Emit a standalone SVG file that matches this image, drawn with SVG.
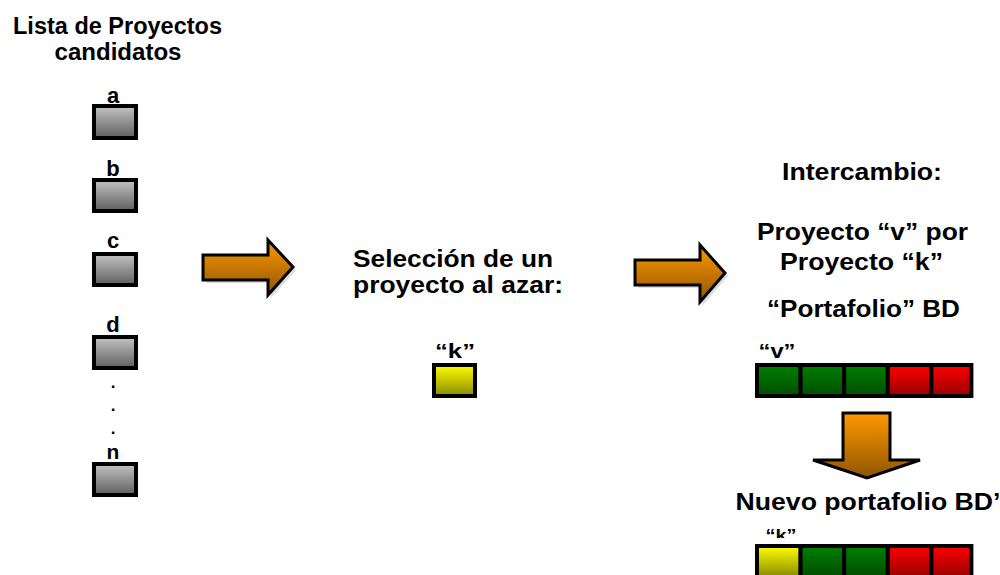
<svg xmlns="http://www.w3.org/2000/svg" width="1000" height="575" viewBox="0 0 1000 575">
<defs>
<linearGradient id="gGray" x1="0" y1="0" x2="0" y2="1"><stop offset="0" stop-color="#c4c4c4"/><stop offset="1" stop-color="#5e5e5e"/></linearGradient>
<linearGradient id="gYel" x1="0" y1="0" x2="0" y2="1"><stop offset="0" stop-color="#ffff00"/><stop offset="1" stop-color="#8a8a00"/></linearGradient>
<linearGradient id="gGrn" x1="0" y1="0" x2="0" y2="1"><stop offset="0" stop-color="#008000"/><stop offset="1" stop-color="#004d00"/></linearGradient>
<linearGradient id="gRed" x1="0" y1="0" x2="0" y2="1"><stop offset="0" stop-color="#ff0000"/><stop offset="1" stop-color="#990000"/></linearGradient>
<linearGradient id="gOr" x1="0" y1="0" x2="0" y2="1"><stop offset="0" stop-color="#ff9900"/><stop offset="1" stop-color="#8f5500"/></linearGradient>
<clipPath id="clipK"><rect x="740" y="515" width="100" height="23"/></clipPath>
</defs>
<style>
text{font-family:"Liberation Sans",Arial,sans-serif;font-weight:bold;fill:#000;text-anchor:middle}
.t{font-size:23px}
.l{font-size:22px}
.q{font-size:21px}
.dot{font-size:17px}
.box{stroke:#000;stroke-width:4}
.arr{fill:url(#gOr);stroke:#000;stroke-width:3;stroke-linejoin:miter}
.sh{fill:#bbb;opacity:0.5}
</style>
<rect width="1000" height="575" fill="#fff"/>
<g id="title">
<text class="t" x="117.5" y="34" textLength="209" lengthAdjust="spacingAndGlyphs">Lista de Proyectos</text>
<text class="t" x="118" y="60" textLength="127" lengthAdjust="spacingAndGlyphs">candidatos</text>
</g>
<g id="node-a"><text class="l" x="113" y="103">a</text><rect class="box" x="94" y="106" width="42" height="32" fill="url(#gGray)"/></g>
<g id="node-b"><text class="l" x="113" y="176">b</text><rect class="box" x="94" y="180" width="42" height="31" fill="url(#gGray)"/></g>
<g id="node-c"><text class="l" x="113" y="248">c</text><rect class="box" x="94" y="254" width="42" height="31" fill="url(#gGray)"/></g>
<g id="node-d"><text class="l" x="113" y="332">d</text><rect class="box" x="94" y="337" width="42" height="31" fill="url(#gGray)"/></g>
<g id="dots"><text class="dot" x="113" y="388">.</text><text class="dot" x="113" y="411">.</text><text class="dot" x="113" y="434">.</text></g>
<g id="node-n"><text class="q" x="113" y="459">n</text><rect class="box" x="94" y="464" width="42" height="31" fill="url(#gGray)"/></g>
<g id="connectors">
<path class="sh" d="M206 258 H271 V243 L296 270 L271 298 V283 H206 Z"/>
<path class="arr" d="M203 255 H268 V240 L293 267 L268 295 V280 H203 Z"/>
<path class="sh" d="M638 263 H703 V248 L728 276 L703 305 V288 H638 Z"/>
<path class="arr" d="M635 260 H700 V245 L725 273 L700 302 V285 H635 Z"/>
<path class="arr" d="M843 413 H890 V460 H920 L867 478 L813 460 H843 Z"/>
</g>
<g id="seleccion">
<text class="t" x="453" y="267" textLength="200" lengthAdjust="spacingAndGlyphs">Selección de un</text>
<text class="t" x="458" y="293" textLength="210" lengthAdjust="spacingAndGlyphs">proyecto al azar:</text>
</g>
<g id="node-k"><text class="q" x="455" y="358" textLength="40" lengthAdjust="spacingAndGlyphs">“k”</text><rect class="box" x="434" y="365" width="41" height="31" fill="url(#gYel)"/></g>
<g id="intercambio">
<text class="t" x="862" y="180" textLength="160" lengthAdjust="spacingAndGlyphs">Intercambio:</text>
<text class="t" x="862.5" y="240" textLength="211" lengthAdjust="spacingAndGlyphs">Proyecto “v” por</text>
<text class="t" x="861.5" y="270" textLength="163" lengthAdjust="spacingAndGlyphs">Proyecto “k”</text>
<text class="t" x="863.5" y="317" textLength="193" lengthAdjust="spacingAndGlyphs">“Portafolio” BD</text>
</g>
<g id="portafolio">
<text class="q" x="777" y="358" textLength="37" lengthAdjust="spacingAndGlyphs">“v”</text>
<rect class="box" x="757" y="365" width="43.6" height="31" fill="url(#gGrn)"/>
<rect class="box" x="800.6" y="365" width="43.6" height="31" fill="url(#gGrn)"/>
<rect class="box" x="844.2" y="365" width="43.6" height="31" fill="url(#gGrn)"/>
<rect class="box" x="887.8" y="365" width="43.6" height="31" fill="url(#gRed)"/>
<rect class="box" x="931.4" y="365" width="40" height="31" fill="url(#gRed)"/>
</g>
<g id="nuevo">
<text class="t" x="868" y="510" textLength="265" lengthAdjust="spacingAndGlyphs">Nuevo portafolio BD’</text>
<text x="781" y="541" style="font-size:17px" textLength="31" lengthAdjust="spacingAndGlyphs" clip-path="url(#clipK)">“k”</text>
<rect class="box" x="757" y="546" width="43.6" height="31" fill="url(#gYel)"/>
<rect class="box" x="800.6" y="546" width="43.6" height="31" fill="url(#gGrn)"/>
<rect class="box" x="844.2" y="546" width="43.6" height="31" fill="url(#gGrn)"/>
<rect class="box" x="887.8" y="546" width="43.6" height="31" fill="url(#gRed)"/>
<rect class="box" x="931.4" y="546" width="40" height="31" fill="url(#gRed)"/>
</g>
</svg>
